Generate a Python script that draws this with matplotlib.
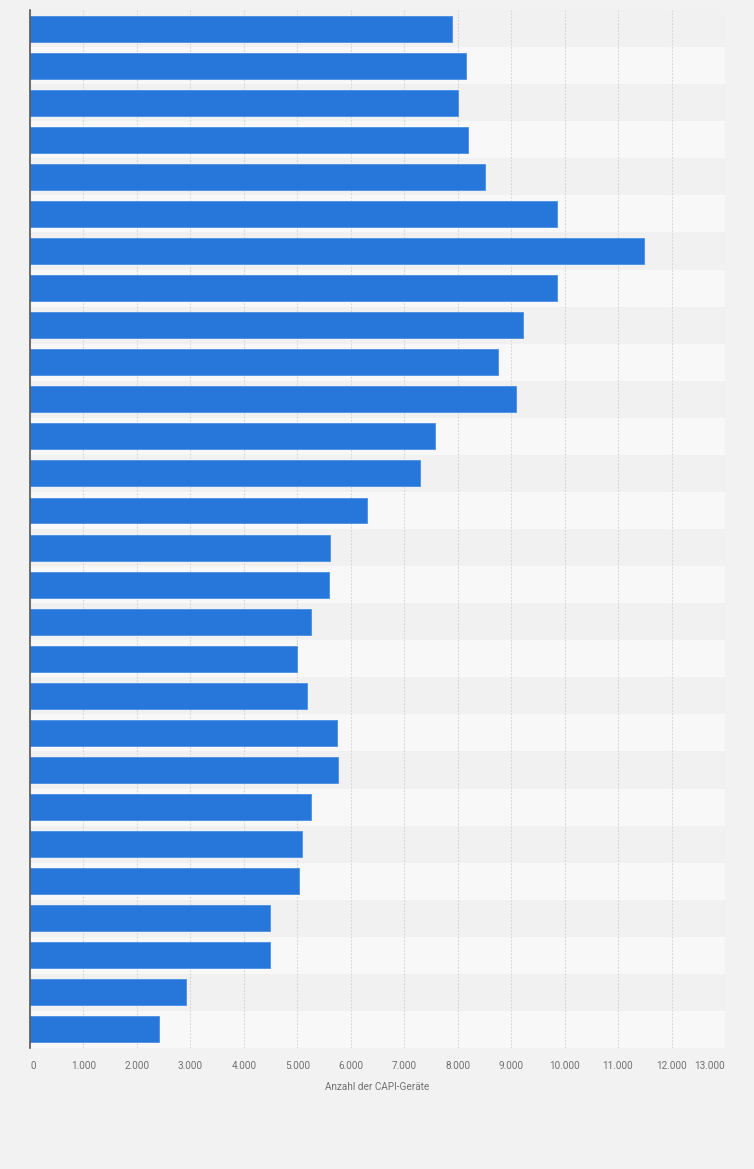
import matplotlib.pyplot as plt
from matplotlib.ticker import FixedLocator

# Werte der Balken (von oben nach unten)
werte = [7900, 8160, 8010, 8190, 8520, 9850, 11480, 9850, 9230, 8750,
         9100, 7580, 7290, 6310, 5620, 5600, 5250, 5000, 5190, 5750,
         5770, 5260, 5080, 5040, 4490, 4480, 2920, 2420]
x_ticks = [0, 1000, 2000, 3000, 4000, 5000, 6000, 7000, 8000, 9000,
           10000, 11000, 12000, 13000]
x_labels = ['0', '1.000', '2.000', '3.000', '4.000', '5.000', '6.000',
            '7.000', '8.000', '9.000', '10.000', '11.000', '12.000', '13.000']
x_titel = 'Anzahl der CAPI-Geräte'

plt.rcParams['font.family'] = ['Roboto', 'DejaVu Sans']

fig = plt.figure(figsize=(7.54, 11.69), dpi=100)
fig.patch.set_facecolor('#f2f2f2')
ax = fig.add_axes([0.0398, 0.1035, 0.9217, 0.8879])
ax.set_facecolor('#f8f8f8')

n = len(werte)
pos = list(range(n))

# abwechselnde Zeilenbänder
for i in pos:
    farbe = '#f1f1f1' if i % 2 == 0 else '#f8f8f8'
    ax.axhspan(i - 0.5, i + 0.5, color=farbe, zorder=0, lw=0)

ax.barh(pos, werte, height=0.7, color='#2776da', edgecolor='#4a8fe3',
        linewidth=0.6, zorder=3)

ax.set_xlim(0, 13000)
ax.set_ylim(n - 0.5, -0.5)
ax.xaxis.set_major_locator(FixedLocator(x_ticks))
ax.set_xticklabels(x_labels)
ax.set_yticks([])
ax.grid(axis='x', color='#d4d4d4', linestyle=(0, (1.5, 1.5)), linewidth=0.8, zorder=1)

for s in ['top', 'right', 'bottom']:
    ax.spines[s].set_visible(False)
ax.spines['left'].set_color('#555555')
ax.spines['left'].set_linewidth(1.2)
ax.spines['left'].set_zorder(4)

ax.tick_params(axis='x', length=0, pad=9, labelsize=7.2, labelcolor='#707070')
# letzte Beschriftung rechtsbündig an der Achse
ax.get_xticklabels()[-1].set_horizontalalignment('right')
ax.get_xticklabels()[0].set_horizontalalignment('left')
ax.set_xlabel(x_titel, fontsize=7.2, color='#707070', labelpad=8)

fig.savefig('out.png', dpi=100, facecolor=fig.get_facecolor())
